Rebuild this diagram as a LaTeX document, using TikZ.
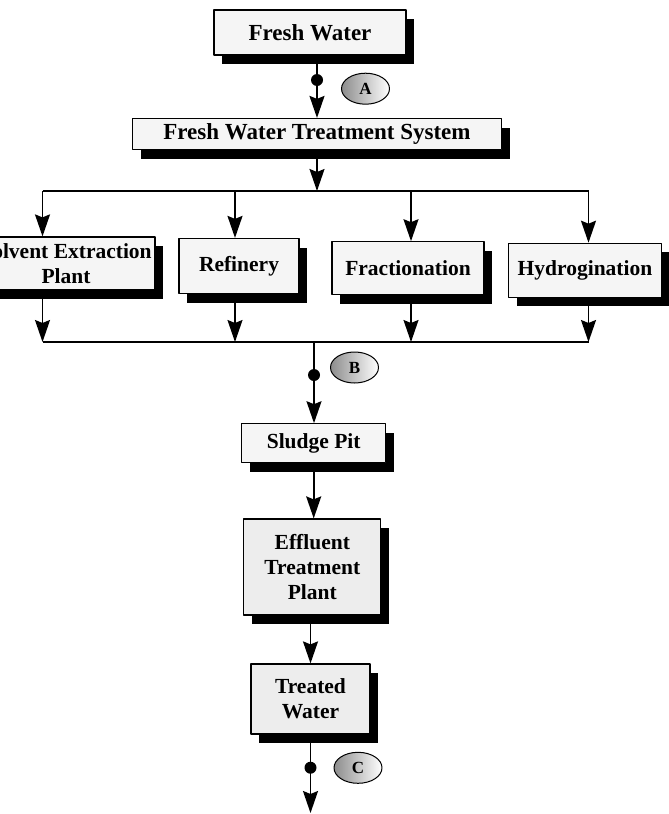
\documentclass[tikz,border=0pt]{standalone}
\usepackage{fontspec}
\setmainfont{Liberation Serif}
\usetikzlibrary{arrows.meta,shapes.geometric,shadows}
\tikzset{
  box/.style={draw,line width=1.2pt,fill=gray!8,inner sep=2pt,align=center,
    font=\bfseries\fontsize{21.5}{25}\selectfont,
    drop shadow={shadow xshift=8pt,shadow yshift=-9pt,fill=black,opacity=1}},
  bigbox/.style={box,font=\bfseries\fontsize{23}{26}\selectfont},
  flow/.style={line width=1.7pt,-{Stealth[length=22pt,width=15pt,inset=3pt]}},
  wire/.style={line width=1.7pt},
  dotnode/.style={circle,fill=black,inner sep=0pt,minimum size=12pt},
  tag/.style={ellipse,draw,line width=1pt,minimum width=48pt,minimum height=31pt,inner sep=0pt,
    left color=gray!90,middle color=gray!40,right color=white,font=\bfseries\fontsize{17}{17}\selectfont}
}

\begin{document}
\begin{tikzpicture}[x=1pt,y=-1pt,line join=round]
\useasboundingbox (0,0) rectangle (669,814);
% --- fresh water in
\node[bigbox,minimum width=192pt,minimum height=45pt] (fresh) at (310,32.5) {Fresh Water};
\node[bigbox,minimum width=369pt,minimum height=31pt] (fwts) at (317,134) {Fresh Water Treatment System};
\draw[flow] (fwts.north |- fresh.south) -- (fwts.north);
\node[dotnode] (dotA) at (317,80) {};
\node[tag] (tagA) at (365.5,88.7) {A};
% --- process plants
\node[box,minimum width=178pt,minimum height=53pt] (solvent) at (66,263.5) {Solvent Extraction\\Plant};
\node[box,minimum width=120pt,minimum height=55pt] (refinery) at (239,266) {Refinery};
\node[box,minimum width=152pt,minimum height=53pt] (fract) at (408,268.3) {Fractionation};
\node[box,minimum width=153pt,minimum height=54pt] (hydro) at (585,270.3) {Hydrogination};
\coordinate (busT) at (317,191);
\coordinate (t1) at (42.5,191); \coordinate (t2) at (235,191);
\coordinate (t3) at (411,191); \coordinate (t4) at (588.5,191);
\coordinate (b1) at (42.5,342); \coordinate (b2) at (235,342);
\coordinate (b3) at (411,342); \coordinate (b4) at (588.5,342);
\draw[flow] (fwts.south) -- (busT);
\draw[wire] (t1) -- (t4);
\draw[flow] (t1) -- (t1 |- solvent.north);
\draw[flow] (t2) -- (t2 |- refinery.north);
\draw[flow] (t3) -- (t3 |- fract.north);
\draw[flow] (t4) -- (t4 |- hydro.north);
\draw[flow] (t1 |- solvent.south) -- (b1);
\draw[flow] (t2 |- refinery.south) -- (b2);
\draw[flow] (t3 |- fract.south) -- (b3);
\draw[flow] (t4 |- hydro.south) -- (b4);
\draw[wire] (b1) -- (b4);
% --- effluent side
\node[box,minimum width=144pt,minimum height=39pt] (sludge) at (313.7,443.3) {Sludge Pit};
\node[box,fill=gray!14,minimum width=137pt,minimum height=96pt] (etp) at (312.3,567) {Effluent\\Treatment\\Plant};
\node[box,fill=gray!14,minimum width=119pt,minimum height=70pt] (treated) at (310.5,699) {Treated\\Water};
\coordinate (busB) at (314,342);
\draw[flow] (busB) -- (sludge.north -| busB);
\node[dotnode] (dotB) at (314,375) {};
\node[tag] (tagB) at (354.5,367.5) {B};
\draw[flow] (sludge.south) -- (sludge.south |- etp.north);
\draw[flow] (treated.north |- etp.south) -- (treated.north);
\coordinate (outlet) at (310.5,813);
\draw[flow] (treated.south) -- (outlet);
\node[dotnode] (dotC) at (310.5,767.7) {};
\node[tag] (tagC) at (358,767.8) {C};
\end{tikzpicture}
\end{document}
